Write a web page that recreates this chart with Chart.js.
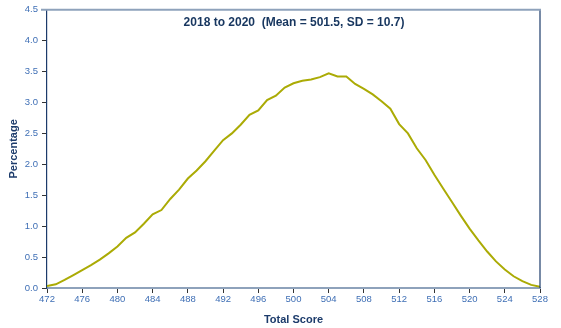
<!DOCTYPE html>
<html>
<head>
<meta charset="utf-8">
<script src="https://cdn.jsdelivr.net/npm/chart.js@4"></script>
<style>
  html, body { margin: 0; padding: 0; background: #fff; }
  #wrap { width: 561px; height: 328px; }
</style>
</head>
<body>
<div id="wrap"><canvas id="scoreChart" width="561" height="328"></canvas></div>
<script>
// score distribution, percent of test takers at each total score
const scores = [];
for (let s = 472; s <= 528; s++) scores.push(s);
const percents = [
  0.03, 0.06, 0.13, 0.21, 0.29, 0.37, 0.46, 0.56, 0.67, 0.81,
  0.90, 1.04, 1.19, 1.26, 1.44, 1.59, 1.77, 1.90, 2.05, 2.22,
  2.39, 2.50, 2.64, 2.80, 2.87, 3.04, 3.11, 3.24, 3.31, 3.35,
  3.37, 3.41, 3.47, 3.42, 3.42, 3.30, 3.22, 3.13, 3.02, 2.90,
  2.65, 2.50, 2.26, 2.07, 1.83, 1.61, 1.39, 1.17, 0.96, 0.77,
  0.59, 0.43, 0.30, 0.19, 0.11, 0.05, 0.02
];
const xTicks = [472, 476, 480, 484, 488, 492, 496, 500, 504, 508, 512, 516, 520, 524, 528];
const yTicks = [0, 0.5, 1.0, 1.5, 2.0, 2.5, 3.0, 3.5, 4.0, 4.5];
const heading = '2018 to 2020  (Mean = 501.5, SD = 10.7)';

const navy = '#1c3b6b';
const tickBlue = '#3f6fb5';
const frameGrey = '#8ea2bb';

// frame around the plot and the heading inside it
const framePlugin = {
  id: 'frame',
  afterDatasetsDraw(chart) {
    const { ctx, chartArea: a } = chart;
    ctx.save();
    ctx.lineWidth = 1.2;
    ctx.strokeStyle = navy;
    ctx.beginPath();
    ctx.moveTo(a.right, a.top);
    ctx.lineTo(a.right, a.bottom);
    ctx.stroke();
    ctx.lineWidth = 2;
    ctx.strokeStyle = frameGrey;
    ctx.beginPath();
    ctx.moveTo(a.left - 6, a.top);
    ctx.lineTo(a.right + 1, a.top);
    ctx.stroke();
    ctx.fillStyle = '#17365f';
    ctx.font = 'bold 12px "Liberation Sans", Arial, sans-serif';
    ctx.textAlign = 'center';
    ctx.textBaseline = 'middle';
    ctx.fillText(heading, (a.left + a.right) / 2 + 0.5, a.top + 13);
    ctx.restore();
  }
};

Chart.defaults.font.family = '"Liberation Sans", Arial, sans-serif';

new Chart(document.getElementById('scoreChart'), {
  type: 'line',
  data: {
    datasets: [{
      data: scores.map((s, i) => ({ x: s, y: percents[i] })),
      borderColor: '#abab05',
      borderWidth: 2,
      pointRadius: 0,
      tension: 0,
      fill: false
    }]
  },
  options: {
    responsive: false,
    animation: false,
    layout: { padding: { top: 6, right: 21, left: 0, bottom: 0 } },
    plugins: { legend: { display: false }, tooltip: { enabled: false } },
    scales: {
      x: {
        type: 'linear',
        min: 472,
        max: 528,
        afterBuildTicks: axis => { axis.ticks = xTicks.map(v => ({ value: v })); },
        afterFit: axis => { axis.height = 40; },
        grid: { drawOnChartArea: false, drawTicks: true, tickLength: 5, tickColor: '#333' },
        border: { color: frameGrey, width: 2 },
        ticks: { color: tickBlue, font: { size: 9.5 }, padding: 1, maxRotation: 0 },
        title: { display: true, text: 'Total Score', color: navy, font: { size: 11, weight: 'bold' }, padding: { top: 4, bottom: 1 } }
      },
      y: {
        min: 0,
        max: 4.5,
        afterBuildTicks: axis => { axis.ticks = yTicks.map(v => ({ value: v })); },
        afterFit: axis => { axis.width = 47; },
        grid: { drawOnChartArea: false, drawTicks: true, tickLength: 5, tickColor: '#333' },
        border: { color: navy, width: 1.2 },
        ticks: { color: tickBlue, font: { size: 9.5 }, padding: 4, callback: v => v.toFixed(1) },
        title: { display: true, text: 'Percentage', color: navy, font: { size: 11, weight: 'bold' }, padding: 7 }
      }
    }
  },
  plugins: [framePlugin]
});
</script>
</body>
</html>
